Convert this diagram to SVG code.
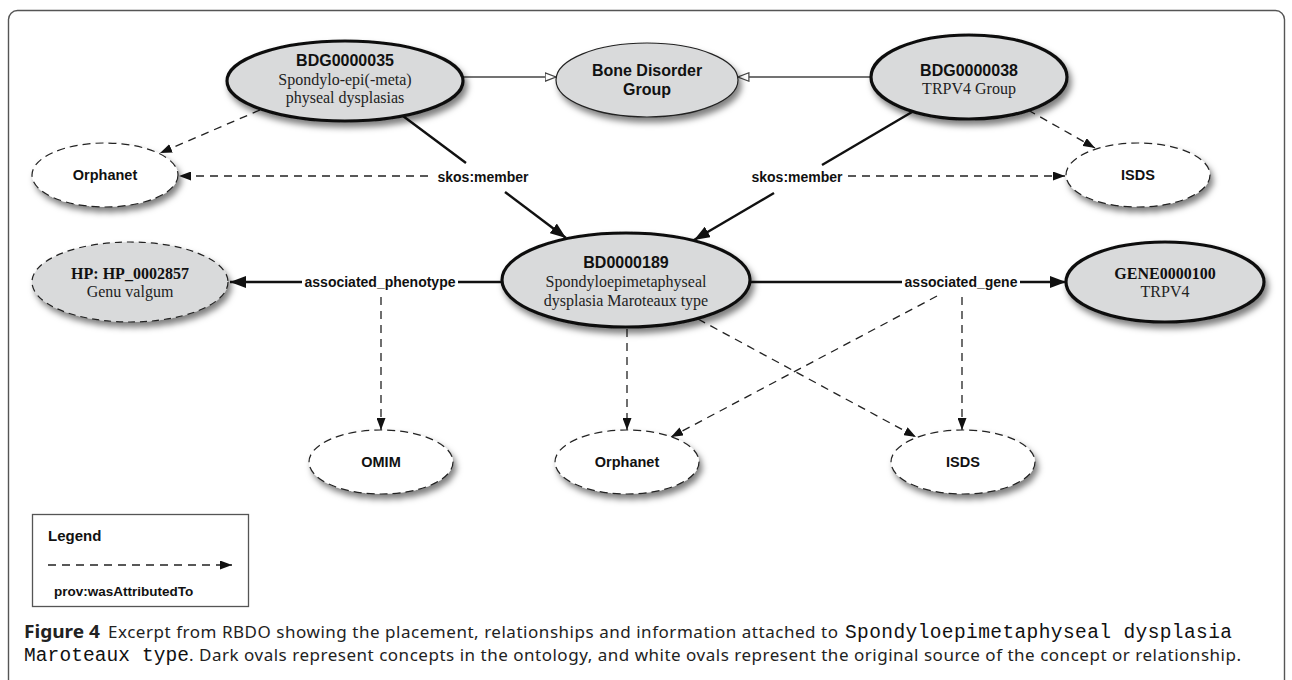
<svg xmlns="http://www.w3.org/2000/svg" width="1292" height="680" viewBox="0 0 1292 680">
<style>
.frame{fill:none;stroke:#555;stroke-width:1.4}
.dark{fill:#d9dadb;stroke:#111;stroke-width:3.2;filter:url(#sh)}
.thin{fill:#d9dadb;stroke:#222;stroke-width:1.2;filter:url(#sh)}
.hp{fill:#d9dadb;stroke:#222;stroke-width:1.2;stroke-dasharray:7 5;filter:url(#sh)}
.src{fill:#fff;stroke:#222;stroke-width:1.2;stroke-dasharray:8 5;filter:url(#sh)}
.solid{stroke:#111;stroke-width:2.4;fill:none}
.hol{stroke:#444;stroke-width:1.3;fill:none}
.dash{stroke:#222;stroke-width:1.3;stroke-dasharray:8 6;fill:none}
.id{font-family:"Liberation Sans",Arial,sans-serif;font-weight:bold;font-size:16px;fill:#111;text-anchor:middle}
.ser{font-family:"Liberation Serif","Times New Roman",serif;font-size:16px;fill:#222;text-anchor:middle}
.serb{font-family:"Liberation Serif","Times New Roman",serif;font-weight:bold;font-size:16px;fill:#111;text-anchor:middle}
.srct{font-family:"Liberation Sans",Arial,sans-serif;font-weight:bold;font-size:14.5px;fill:#111;text-anchor:middle}
.lab{font-family:"Liberation Sans",Arial,sans-serif;font-weight:bold;font-size:14px;fill:#111;text-anchor:middle}
.leg{font-family:"Liberation Sans",Arial,sans-serif;font-weight:bold;font-size:13.5px;fill:#111}
.cap{font-family:"Noto Sans","Liberation Sans",sans-serif;font-size:17px;fill:#222}
.mono{font-family:"Liberation Mono","Courier New",monospace;font-size:19.5px;fill:#111}
</style>
<defs>
<filter id="sh" x="-20%" y="-20%" width="150%" height="170%">
<feDropShadow dx="3" dy="5" stdDeviation="3" flood-color="#000" flood-opacity="0.5"/>
</filter>
<marker id="ab" viewBox="0 0 16 12" refX="16" refY="6" markerWidth="16" markerHeight="12" orient="auto" markerUnits="userSpaceOnUse"><path d="M0,0 L16,6 L0,12 z" fill="#111"/></marker>
<marker id="as" viewBox="0 0 12 9" refX="12" refY="4.5" markerWidth="12" markerHeight="9" orient="auto" markerUnits="userSpaceOnUse"><path d="M0,0 L12,4.5 L0,9 z" fill="#111"/></marker>
<marker id="ah" viewBox="0 0 12 10" refX="11.5" refY="5" markerWidth="12" markerHeight="10" orient="auto" markerUnits="userSpaceOnUse"><path d="M0.6,0.8 L11.5,5 L0.6,9.2 z" fill="#fff" stroke="#444" stroke-width="1.2"/></marker>
</defs>

<rect class="frame" x="8.5" y="10.5" width="1276" height="720" rx="9"/>

<g id="connectors">
  <line class="hol" x1="462" y1="77" x2="556" y2="77" marker-end="url(#ah)"/>
  <line class="hol" x1="871" y1="77" x2="738" y2="77" marker-end="url(#ah)"/>
  <line class="dash" x1="260" y1="110" x2="160" y2="153" marker-end="url(#as)"/>
  <line class="dash" x1="1028" y1="110" x2="1095" y2="148" marker-end="url(#as)"/>
  <line class="solid" x1="403" y1="116" x2="466" y2="163"/>
  <line class="solid" x1="505" y1="192" x2="566" y2="238" marker-end="url(#ab)"/>
  <line class="solid" x1="912" y1="112" x2="822" y2="165"/>
  <line class="solid" x1="774" y1="193" x2="694" y2="240" marker-end="url(#ab)"/>
  <line class="dash" x1="428" y1="176" x2="179" y2="176" marker-end="url(#as)"/>
  <line class="dash" x1="848" y1="176" x2="1065" y2="176" marker-end="url(#as)"/>
  <line class="solid" x1="502" y1="282" x2="458" y2="282"/>
  <line class="solid" x1="302" y1="282" x2="230" y2="282" marker-end="url(#ab)"/>
  <line class="solid" x1="750" y1="282" x2="902" y2="282"/>
  <line class="solid" x1="1020" y1="282" x2="1066" y2="282" marker-end="url(#ab)"/>
  <line class="dash" x1="381" y1="297" x2="381" y2="430" marker-end="url(#as)"/>
  <line class="dash" x1="627" y1="329" x2="627" y2="430" marker-end="url(#as)"/>
  <line class="dash" x1="698" y1="319" x2="916" y2="437" marker-end="url(#as)"/>
  <line class="dash" x1="937" y1="296" x2="671" y2="437" marker-end="url(#as)"/>
  <line class="dash" x1="962" y1="297" x2="962" y2="430" marker-end="url(#as)"/>
  <text class="lab" x="483" y="182">skos:member</text>
  <text class="lab" x="797" y="182">skos:member</text>
  <text class="lab" x="380" y="287">associated_phenotype</text>
  <text class="lab" x="961" y="287">associated_gene</text>
</g>

<g id="bdg35">
  <ellipse class="dark" cx="345" cy="81" rx="118" ry="40"/>
  <text class="id" x="345" y="66">BDG0000035</text>
  <text class="ser" x="345" y="85">Spondylo-epi(-meta)</text>
  <text class="ser" x="345" y="103">physeal dysplasias</text>
</g>
<g id="bone-disorder-group">
  <ellipse class="thin" cx="647" cy="80" rx="91" ry="37"/>
  <text class="id" x="647" y="76">Bone Disorder</text>
  <text class="id" x="647" y="95">Group</text>
</g>
<g id="bdg38">
  <ellipse class="dark" cx="969" cy="77" rx="98" ry="42"/>
  <text class="id" x="969" y="76">BDG0000038</text>
  <text class="ser" x="969" y="94">TRPV4 Group</text>
</g>
<g id="orphanet-top">
  <ellipse class="src" cx="105" cy="175" rx="73" ry="32"/>
  <text class="srct" x="105" y="180">Orphanet</text>
</g>
<g id="isds-top">
  <ellipse class="src" cx="1138" cy="175" rx="72" ry="32"/>
  <text class="srct" x="1138" y="180">ISDS</text>
</g>
<g id="hp">
  <ellipse class="hp" cx="130" cy="282" rx="98" ry="40"/>
  <text class="serb" x="130" y="279">HP: HP_0002857</text>
  <text class="ser" x="130" y="297">Genu valgum</text>
</g>
<g id="bd189">
  <ellipse class="dark" cx="626" cy="280" rx="124" ry="47"/>
  <text class="id" x="626" y="268">BD0000189</text>
  <text class="ser" x="626" y="287">Spondyloepimetaphyseal</text>
  <text class="ser" x="626" y="306">dysplasia Maroteaux type</text>
</g>
<g id="gene">
  <ellipse class="dark" cx="1165" cy="282" rx="99" ry="40"/>
  <text class="serb" x="1165" y="279">GENE0000100</text>
  <text class="ser" x="1165" y="297">TRPV4</text>
</g>
<g id="omim">
  <ellipse class="src" cx="381" cy="462" rx="72" ry="32"/>
  <text class="srct" x="381" y="467">OMIM</text>
</g>
<g id="orphanet-bottom">
  <ellipse class="src" cx="627" cy="462" rx="72" ry="32"/>
  <text class="srct" x="627" y="467">Orphanet</text>
</g>
<g id="isds-bottom">
  <ellipse class="src" cx="963" cy="462" rx="72" ry="32"/>
  <text class="srct" x="963" y="467">ISDS</text>
</g>

<g id="legend">
  <rect x="32.5" y="514.5" width="216" height="92" fill="#fff" stroke="#555" stroke-width="1.3"/>
  <text class="leg" x="48" y="541" style="font-size:15px">Legend</text>
  <line class="dash" x1="48" y1="565" x2="232" y2="565" marker-end="url(#as)"/>
  <text class="leg" x="54" y="596">prov:wasAttributedTo</text>
</g>

<g id="caption">
  <text class="cap" x="24" y="638" style="font-weight:bold" textLength="76" lengthAdjust="spacingAndGlyphs">Figure 4</text>
  <text class="cap" x="108" y="638" textLength="730" lengthAdjust="spacing">Excerpt from RBDO showing the placement, relationships and information attached to</text>
  <text class="mono" x="845" y="638" textLength="387" lengthAdjust="spacing">Spondyloepimetaphyseal dysplasia</text>
  <text class="mono" x="24" y="661" textLength="165" lengthAdjust="spacing">Maroteaux type</text>
  <text class="cap" x="189" y="661" textLength="1052" lengthAdjust="spacing">. Dark ovals represent concepts in the ontology, and white ovals represent the original source of the concept or relationship.</text>
</g>
</svg>
